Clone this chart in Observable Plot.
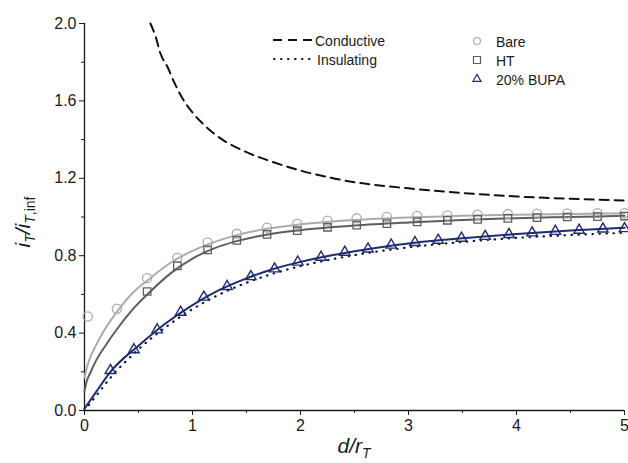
<!DOCTYPE html>
<html><head><meta charset="utf-8">
<script src="https://cdn.jsdelivr.net/npm/d3@7"></script>
<script src="https://cdn.jsdelivr.net/npm/@observablehq/plot@0.6"></script>
<style>
html,body{margin:0;padding:0;background:#fff;}
#wrap{position:relative;width:628px;height:463px;}
</style></head>
<body><div id="wrap"></div>
<script>
// ---- tick values ----
const xMajor = [0, 1, 2, 3, 4, 5];
const xMinor = [0.5, 1.5, 2.5, 3.5, 4.5];
const yMajor = [0, 0.4, 0.8, 1.2, 1.6, 2.0];
const yMinor = [0.2, 0.6, 1.0, 1.4, 1.8];

// ---- measured points ----
const bareX = [0.03, 0.30, 0.58, 0.86, 1.14, 1.41, 1.69, 1.97, 2.25, 2.52, 2.80, 3.08, 3.36, 3.64, 3.92, 4.19, 4.47, 4.75, 5.0];
const bareY = [0.486, 0.526, 0.684, 0.79, 0.868, 0.913, 0.945, 0.964, 0.981, 0.993, 1.0, 1.005, 1.008, 1.012, 1.015, 1.017, 1.018, 1.02, 1.02];
const htX = [0.58, 0.86, 1.14, 1.41, 1.69, 1.97, 2.25, 2.52, 2.80, 3.08, 3.36, 3.64, 3.92, 4.19, 4.47, 4.75, 5.0];
const htY = [0.615, 0.748, 0.83, 0.879, 0.91, 0.929, 0.947, 0.958, 0.966, 0.975, 0.983, 0.988, 0.993, 0.997, 1.0, 1.002, 1.005];
const bupaX = [0.24, 0.457, 0.673, 0.89, 1.105, 1.32, 1.54, 1.76, 1.975, 2.19, 2.41, 2.625, 2.84, 3.06, 3.275, 3.49, 3.71, 3.93, 4.145, 4.36, 4.58, 4.8, 5.0];
const bupaY = [0.207, 0.314, 0.417, 0.508, 0.586, 0.641, 0.692, 0.732, 0.767, 0.792, 0.818, 0.835, 0.855, 0.868, 0.88, 0.89, 0.9, 0.91, 0.918, 0.926, 0.932, 0.938, 0.94];

// ---- fitted curves ----
const bareFitX = [0, 0.02, 0.05, 0.1, 0.2, 0.3, 0.45, 0.6, 0.8, 1.0, 1.2, 1.4, 1.7, 2.0, 2.5, 3.0, 3.5, 4.0, 4.5, 5.0];
const bareFitY = [0.17, 0.22, 0.27, 0.33, 0.43, 0.51, 0.61, 0.68, 0.765, 0.825, 0.87, 0.905, 0.94, 0.962, 0.985, 0.998, 1.006, 1.012, 1.016, 1.02];
const htFitX = [0, 0.02, 0.05, 0.1, 0.2, 0.3, 0.45, 0.6, 0.8, 1.0, 1.2, 1.4, 1.7, 2.0, 2.5, 3.0, 3.5, 4.0, 4.5, 5.0];
const htFitY = [0.1, 0.15, 0.19, 0.25, 0.34, 0.42, 0.525, 0.61, 0.71, 0.785, 0.838, 0.874, 0.91, 0.932, 0.956, 0.972, 0.985, 0.994, 1.0, 1.006];
const bupaFitX = [0, 0.1, 0.24, 0.5, 0.75, 1.0, 1.25, 1.5, 1.75, 2.0, 2.5, 3.0, 3.5, 4.0, 4.5, 5.0];
const bupaFitY = [0.01, 0.09, 0.2, 0.335, 0.45, 0.545, 0.623, 0.683, 0.731, 0.768, 0.823, 0.863, 0.89, 0.912, 0.93, 0.945];
const insX = [0, 0.1, 0.25, 0.5, 0.75, 1.0, 1.25, 1.5, 1.75, 2.0, 2.5, 3.0, 3.5, 4.0, 4.5, 5.0];
const insY = [0.0, 0.07, 0.175, 0.316, 0.43, 0.524, 0.6, 0.66, 0.708, 0.746, 0.803, 0.843, 0.871, 0.892, 0.907, 0.918];
const condX = [0.61, 0.66, 0.70, 0.77, 0.83, 0.9, 1.0, 1.1, 1.25, 1.5, 1.75, 2.0, 2.25, 2.5, 3.0, 3.5, 4.0, 4.5, 5.0];
const condY = [2.0, 1.93, 1.85, 1.774, 1.697, 1.62, 1.54, 1.48, 1.41, 1.335, 1.283, 1.24, 1.206, 1.18, 1.148, 1.124, 1.106, 1.094, 1.085];

const lineNames = ["Conductive", "Insulating"];
const seriesNames = ["Bare", "HT", "20% BUPA"];

const zip = (xs, ys) => xs.map((x, i) => ({x, y: ys[i]}));
const bare = zip(bareX, bareY), ht = zip(htX, htY), bupa = zip(bupaX, bupaY);
const bareFit = zip(bareFitX, bareFitY), htFit = zip(htFitX, htFitY), bupaFit = zip(bupaFitX, bupaFitY);
const ins = zip(insX, insY), cond = zip(condX, condY);

const cBare = "#ababab", cHT = "#5e5e5e", cBupa = "#1f2c6e";
const font = "'Liberation Sans', Arial, Helvetica, sans-serif";

const chart = Plot.plot({
  width: 628, height: 463,
  marginLeft: 84, marginRight: 4, marginTop: 23, marginBottom: 53,
  x: {domain: [0, 5]},
  y: {domain: [0, 2]},
  style: {fontFamily: font, fontSize: "16px", color: "#1a1a1a", background: "#fff"},
  marks: [
    Plot.axisX({ticks: xMajor, tickSize: 5, tickPadding: 4, tickFormat: d => String(d), label: null, fontSize: 16, stroke: "#1a1a1a"}),
    Plot.axisX({ticks: xMinor, tickSize: 3, tickFormat: () => "", label: null, stroke: "#1a1a1a"}),
    Plot.axisY({ticks: yMajor, tickSize: 5, tickPadding: 3, tickFormat: d3.format(".1f"), label: null, fontSize: 16, stroke: "#1a1a1a"}),
    Plot.axisY({ticks: yMinor, tickSize: 3, tickFormat: () => "", label: null, stroke: "#1a1a1a"}),
    Plot.ruleX([0], {stroke: "#1a1a1a", strokeWidth: 1.3}),
    Plot.ruleY([0], {stroke: "#1a1a1a", strokeWidth: 1.3}),
    Plot.line(cond, {x: "x", y: "y", stroke: "#111", strokeWidth: 2, strokeDasharray: "9,6", curve: "monotone-x"}),
    Plot.line(ins, {x: "x", y: "y", stroke: "#151a33", strokeWidth: 2.2, strokeDasharray: "0.5,6.5", strokeLinecap: "round", curve: "monotone-x"}),
    Plot.line(bareFit, {x: "x", y: "y", stroke: cBare, strokeWidth: 2, curve: "monotone-x"}),
    Plot.line(htFit, {x: "x", y: "y", stroke: cHT, strokeWidth: 2, curve: "monotone-x"}),
    Plot.line(bupaFit, {x: "x", y: "y", stroke: cBupa, strokeWidth: 2, curve: "monotone-x"}),
    Plot.dot(bare, {x: "x", y: "y", symbol: "circle", r: 4.6, stroke: cBare, strokeWidth: 1.3, fill: "none"}),
    Plot.dot(ht, {x: "x", y: "y", symbol: "square", r: 4.2, stroke: cHT, strokeWidth: 1.3, fill: "none"}),
    Plot.dot(bupa, {x: "x", y: "y", symbol: "triangle", r: 3.9, stroke: cBupa, strokeWidth: 1.4, fill: "none"})
  ]
});
document.getElementById("wrap").appendChild(chart);

// ---- axis labels with subscripts ----
const svg = d3.select(chart);
const yl = svg.append("text")
  .attr("transform", "translate(30,222) rotate(-90)")
  .attr("text-anchor", "middle")
  .attr("fill", "#1a1a1a")
  .style("font-family", font).style("font-size", "21px").style("font-style", "italic");
yl.append("tspan").text("i");
yl.append("tspan").attr("dy", 5).style("font-size", "14px").text("T");
yl.append("tspan").attr("dy", -5).text("/i");
yl.append("tspan").attr("dy", 5).style("font-size", "14px").text("T");
yl.append("tspan").style("font-size", "14px").style("font-style", "normal").text(",inf");

const xl = svg.append("text")
  .attr("x", 354).attr("y", 453)
  .attr("text-anchor", "middle")
  .attr("fill", "#1a1a1a")
  .style("font-family", font).style("font-size", "21px").style("font-style", "italic");
xl.append("tspan").text("d/r");
xl.append("tspan").attr("dy", 5).style("font-size", "14px").text("T");

// ---- legend ----
const lg = svg.append("g").attr("text-anchor", "start")
  .style("font-family", font).style("font-size", "14px").attr("fill", "#1a1a1a");
lg.append("line").attr("x1", 273).attr("x2", 313).attr("y1", 40).attr("y2", 40)
  .attr("stroke", "#111").attr("stroke-width", 2).attr("stroke-dasharray", "9,6");
lg.append("text").attr("x", 315).attr("y", 46).text(lineNames[0]);
lg.append("line").attr("x1", 274).attr("x2", 314).attr("y1", 59).attr("y2", 59)
  .attr("stroke", "#151a33").attr("stroke-width", 2.2).attr("stroke-dasharray", "0.5,6.5").attr("stroke-linecap", "round");
lg.append("text").attr("x", 317).attr("y", 65).text(lineNames[1]);

const symCircle = d3.symbol(d3.symbolCircle, Math.PI * 3.5 * 3.5)();
const symSquare = d3.symbol(d3.symbolSquare, 7 * 7)();
const symTri = d3.symbol(d3.symbolTriangle, 28)();
lg.append("path").attr("d", symCircle).attr("transform", "translate(477,41)").attr("fill", "none").attr("stroke", cBare).attr("stroke-width", 1.2);
lg.append("text").attr("x", 496).attr("y", 47).text(seriesNames[0]);
lg.append("path").attr("d", symSquare).attr("transform", "translate(477,60)").attr("fill", "none").attr("stroke", cHT).attr("stroke-width", 1.2);
lg.append("text").attr("x", 496).attr("y", 66).text(seriesNames[1]);
lg.append("path").attr("d", symTri).attr("transform", "translate(477,79)").attr("fill", "none").attr("stroke", cBupa).attr("stroke-width", 1.2);
lg.append("text").attr("x", 496).attr("y", 85).text(seriesNames[2]);
</script>
</body></html>
